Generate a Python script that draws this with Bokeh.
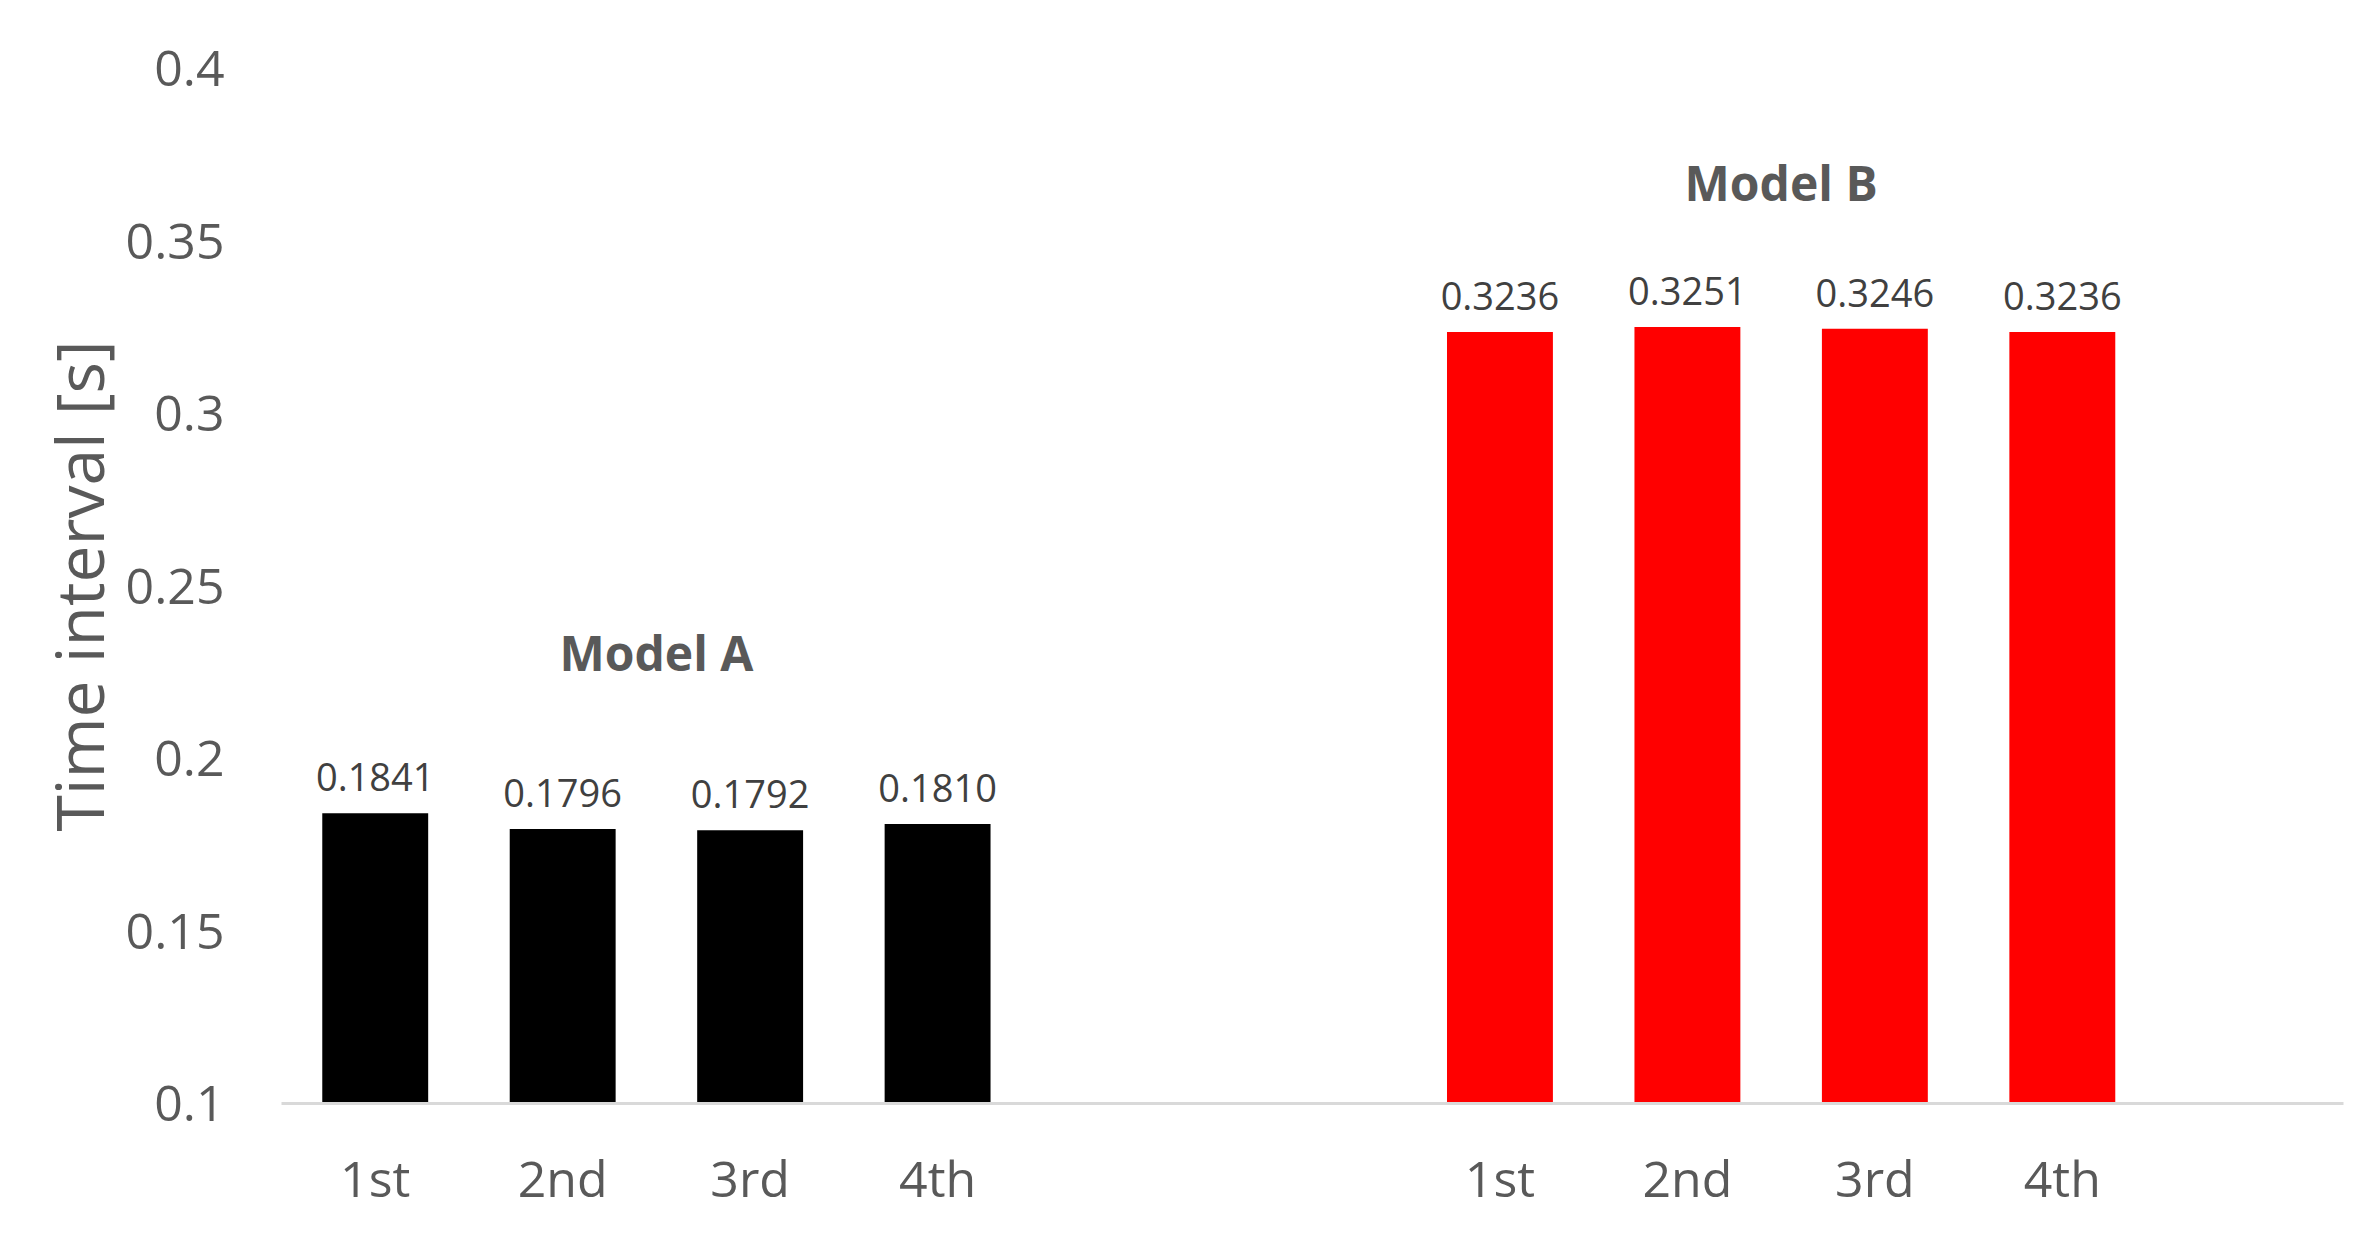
from bokeh.plotting import figure
from bokeh.models import ColumnDataSource, FixedTicker, Label, Range1d
from bokeh.embed import file_html
from bokeh.resources import INLINE
from bokeh.core.properties import value

# ---- data ----
runs = ["1st", "2nd", "3rd", "4th"]
model_a = [0.1841, 0.1796, 0.1792, 0.1810]
model_b = [0.3236, 0.3251, 0.3246, 0.3236]
group_names = ["Model A", "Model B"]
y_ticks = [0.1, 0.15, 0.2, 0.25, 0.3, 0.35, 0.4]

# slot layout: A in slots 0-3, two empty slots, B in slots 6-9, one empty slot
a_x = [i + 0.5 for i in range(4)]
b_x = [i + 6.5 for i in range(4)]
n_slots = 11

FONT = "Open Sans"
GREY = "#595959"

p = figure(width=2362, height=1230, output_backend="svg", toolbar_location=None,
           x_range=Range1d(0, n_slots), y_range=Range1d(0.1, 0.4),
           min_border_left=281, min_border_right=19, min_border_top=68,
           min_border_bottom=127)
p.outline_line_color = None
p.xgrid.grid_line_color = None
p.ygrid.grid_line_color = None
p.background_fill_color = "white"
p.border_fill_color = "white"

src_a = ColumnDataSource(dict(x=a_x, top=model_a, lab=["%.4f" % v for v in model_a]))
src_b = ColumnDataSource(dict(x=b_x, top=model_b, lab=["%.4f" % v for v in model_b]))

bw = 0.565
p.vbar(x="x", top="top", bottom=0.1, width=bw, source=src_a, fill_color="#000000", line_color=None)
p.vbar(x="x", top="top", bottom=0.1, width=bw, source=src_b, fill_color="#FF0000", line_color=None)

for src in (src_a, src_b):
    p.text(x="x", y="top", text="lab", source=src, text_align="center",
           text_baseline="alphabetic", y_offset=-36, text_font=value(FONT),
           text_font_size="38px", text_color="#404040")

# x axis
p.xaxis.ticker = FixedTicker(ticks=a_x + b_x)
p.xaxis.major_label_overrides = {t: r for t, r in zip(a_x + b_x, runs + runs)}
p.xaxis.axis_line_color = "#d9d9d9"
p.xaxis.axis_line_width = 3
p.xaxis.major_tick_line_color = None
p.xaxis.minor_tick_line_color = None
p.xaxis.major_label_standoff = 34
p.xaxis.major_label_text_font = FONT
p.xaxis.major_label_text_font_size = "50px"
p.xaxis.major_label_text_color = GREY

# y axis
p.yaxis.ticker = FixedTicker(ticks=y_ticks)
p.yaxis.major_label_overrides = {t: ("%g" % t) for t in y_ticks}
p.yaxis.axis_line_color = None
p.yaxis.major_tick_line_color = None
p.yaxis.minor_tick_line_color = None
p.yaxis.major_label_standoff = 51
p.yaxis.major_label_text_font = FONT
p.yaxis.major_label_text_font_size = "50px"
p.yaxis.major_label_text_color = GREY
p.yaxis.axis_label = "Time interval [s]"
p.yaxis.axis_label_text_font = FONT
p.yaxis.axis_label_text_font_size = "66px"
p.yaxis.axis_label_text_font_style = "normal"
p.yaxis.axis_label_text_color = GREY
p.yaxis.axis_label_standoff = 0

# group labels
for name, cx, cy in zip(group_names, [2.0, 8.0], [0.2307, 0.367]):
    p.add_layout(Label(x=cx, y=cy, text=name, text_align="center", text_baseline="middle",
                       text_font=FONT, text_font_size="48px", text_font_style="bold",
                       text_color=GREY))

open("out.html", "w").write(file_html(p, INLINE))
